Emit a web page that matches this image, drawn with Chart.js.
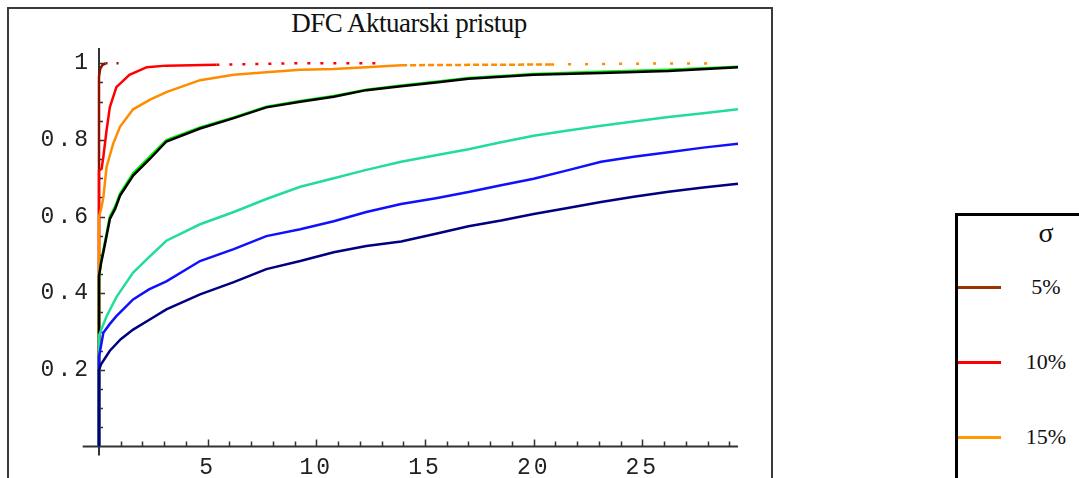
<!DOCTYPE html>
<html><head><meta charset="utf-8">
<script src="https://cdn.jsdelivr.net/npm/chart.js@4.4.1/dist/chart.umd.min.js"></script>
<style>
html,body{margin:0;padding:0;width:1079px;height:478px;overflow:hidden;background:#fff;}
#cwrap{position:absolute;left:0;top:0;width:1079px;height:478px;}
#frame{position:absolute;left:7px;top:7px;width:762px;height:520px;border:2px solid #3a3a3a;}
#title{position:absolute;left:159px;width:500px;top:10px;text-align:center;font-family:"Liberation Serif","Times New Roman",serif;font-size:27px;line-height:27px;color:#111;letter-spacing:-0.5px;}
#legbox{position:absolute;left:955px;top:213px;width:300px;height:400px;border-left:3px solid #000;border-top:3px solid #000;}
.lt{position:absolute;left:996px;width:100px;text-align:center;font-family:"Liberation Serif","Times New Roman",serif;font-size:22px;line-height:22px;color:#111;}
.ll{position:absolute;left:958px;width:43px;height:3px;}
</style></head>
<body>
<div id="frame"></div>
<div id="title">DFC Aktuarski pristup</div>
<div id="legbox"></div>
<div id="legend"></div>
<div id="cwrap"><canvas id="c"></canvas></div>
<script>
// ---- data ----
const seriesLabels = ['5%','10%','15%','20%','25%','30%','35%','40%'];
const seriesColors = ['#8B1200','#FF0000','#FF8C00','#00EE00','#000000','#22DD99','#1010FF','#000080'];
const legendColors = ['#993300','#FF0000','#FF9900','#00EE00','#000000','#22DD99','#1010FF','#000080'];

const x5  = [0, 0, 0.05, 0.15, 0.3, 0.8, 1.3];
const y5  = [0, 0.965, 0.985, 0.995, 1.0, 1.0, 1.0];

const x10 = [0, 0, 0.12, 0.2, 0.35, 0.5, 0.8, 1.4, 2.2, 3.1, 5.4, 9, 13];
const y10 = [0, 0.72, 0.725, 0.756, 0.826, 0.886, 0.938, 0.97, 0.99, 0.994, 0.996, 1, 1];

const x15 = [0, 0, 0.1, 0.2, 0.35, 0.65, 0.97, 1.57, 2.35, 3.1, 4.65, 6.2, 7.7, 9.26, 10.8, 12.3, 13.9, 17, 20.8, 24.5, 28.6];
const y15 = [0, 0.6, 0.62, 0.65, 0.73, 0.79, 0.835, 0.88, 0.905, 0.925, 0.956, 0.97, 0.977, 0.983, 0.985, 0.99, 0.995, 0.996, 0.997, 0.999, 1.0];

const x20 = [0, 0, 0.1, 0.2, 0.35, 0.5, 0.74, 0.97, 1.57, 2.35, 3.1, 4.65, 6.2, 7.7, 9.26, 10.8, 12.3, 13.9, 15.5, 17, 18.5, 20, 23.1, 26.2, 29.4];
const y20 = [0, 0.44, 0.485, 0.512, 0.556, 0.6, 0.626, 0.66, 0.713, 0.757, 0.8, 0.833, 0.859, 0.887, 0.902, 0.915, 0.931, 0.942, 0.952, 0.962, 0.967, 0.972, 0.978, 0.983, 0.991];

const x25 = [0, 0, 0.1, 0.2, 0.35, 0.5, 0.74, 0.97, 1.57, 2.35, 3.1, 4.65, 6.2, 7.7, 9.26, 10.8, 12.3, 13.9, 15.5, 17, 18.5, 20, 23.1, 26.2, 29.4];
const y25 = [0, 0.445, 0.48, 0.507, 0.55, 0.594, 0.62, 0.655, 0.707, 0.751, 0.796, 0.83, 0.857, 0.885, 0.9, 0.913, 0.93, 0.94, 0.95, 0.96, 0.965, 0.97, 0.975, 0.98, 0.99];

const x30 = [0, 0, 0.35, 0.8, 1.57, 2.35, 3.1, 4.65, 6.2, 7.7, 9.26, 10.8, 12.3, 13.9, 15.5, 17, 18.5, 20, 21.5, 23.1, 24.6, 26.2, 27.8, 29.4];
const y30 = [0, 0.29, 0.34, 0.39, 0.454, 0.497, 0.537, 0.58, 0.612, 0.646, 0.678, 0.7, 0.722, 0.743, 0.76, 0.776, 0.794, 0.811, 0.824, 0.837, 0.848, 0.86, 0.87, 0.88];

const x35 = [0, 0, 0.2, 0.5, 0.8, 1.57, 2.3, 3.1, 4.65, 6.2, 7.7, 9.26, 10.8, 12.3, 13.9, 15.5, 17, 18.5, 20, 21.5, 23.1, 24.6, 26.2, 27.8, 29.4];
const y35 = [0, 0.234, 0.297, 0.32, 0.34, 0.384, 0.41, 0.431, 0.484, 0.515, 0.549, 0.567, 0.588, 0.612, 0.633, 0.648, 0.664, 0.682, 0.699, 0.72, 0.743, 0.756, 0.768, 0.78, 0.79];

const x40 = [0, 0, 0.1, 0.5, 1, 1.57, 2.3, 3.1, 4.65, 6.2, 7.7, 9.26, 10.8, 12.3, 13.9, 15.5, 17, 18.5, 20, 21.5, 23.1, 24.6, 26.2, 27.8, 29.4];
const y40 = [0, 0.2, 0.215, 0.25, 0.28, 0.305, 0.33, 0.358, 0.397, 0.429, 0.463, 0.484, 0.507, 0.523, 0.535, 0.555, 0.575, 0.59, 0.607, 0.622, 0.638, 0.652, 0.665, 0.676, 0.686];

const xTicks = [5, 10, 15, 20, 25];
const xTickLabels = ['5', '10', '15', '20', '25'];
const yTicks = [0.2, 0.4, 0.6, 0.8, 1.0];
const yTickLabels = ['0.2', '0.4', '0.6', '0.8', '1'];

const xs = [x5, x10, x15, x20, x25, x30, x35, x40];
const ys = [y5, y10, y15, y20, y25, y30, y35, y40];
// dash ranges for sparse step tails [from, to, dash]
const dashRanges = [
  [[0.3, 99, [2, 9]]],
  [[5.4, 99, [3, 10]]],
  [[13.9, 20.8, [6, 3]], [20.8, 99, [3, 14]]],
  [], [], [], [], []
];

// ---- legend (HTML) ----
const leg = document.getElementById('legend');
(function(){
  let h = '<div class="lt" style="top:219px;font-size:28px;line-height:28px">σ</div>';
  seriesLabels.forEach((l, i) => {
    const cy = 287 + i * 75;
    h += '<div class="ll" style="top:' + (cy - 1.5) + 'px;background:' + legendColors[i] + '"></div>';
    h += '<div class="lt" style="top:' + (cy - 11.5) + 'px">' + l + '</div>';
  });
  leg.innerHTML = h;
})();

const datasets = xs.map((xa, i) => ({
  label: seriesLabels[i],
  data: xa.map((x, j) => ({x: x, y: ys[i][j]})),
  borderColor: seriesColors[i],
  backgroundColor: seriesColors[i],
  borderWidth: 2.5,
  pointRadius: 0,
  tension: 0,
  fill: false,
  clip: false,
  order: 8 - i,
  segment: {
    borderDash: ctx => {
      const px = ctx.p0.parsed.x;
      for (const r of dashRanges[i]) { if (px >= r[0] && px < r[1]) return r[2]; }
      return undefined;
    }
  }
}));

const spacingPlugin = {
  id: 'spacing',
  beforeDraw(chart) { chart.ctx.letterSpacing = '3px'; },
  afterDraw(chart) { chart.ctx.letterSpacing = '0px'; }
};

const axesPlugin = {
  id: 'mmaAxes',
  beforeDatasetsDraw(chart) {
    const {ctx, scales: {x, y}} = chart;
    const x0 = x.getPixelForValue(0), y0 = y.getPixelForValue(0);
    ctx.save();
    ctx.strokeStyle = '#333';
    ctx.lineWidth = 2;
    ctx.beginPath();
    ctx.moveTo(x.getPixelForValue(-0.75), y0);
    ctx.lineTo(x.getPixelForValue(29.4), y0);
    ctx.moveTo(x0, y.getPixelForValue(1.04));
    ctx.lineTo(x0, y0 + 9);
    ctx.stroke();
    ctx.lineWidth = 1.5;
    ctx.beginPath();
    for (let k = 1; k <= 29; k++) {
      const px = Math.round(x.getPixelForValue(k)) + 0.5;
      const len = (k % 5 === 0) ? 7 : 5;
      ctx.moveTo(px, y0); ctx.lineTo(px, y0 - len);
    }
    for (let k = 1; k <= 20; k++) {
      const py = Math.round(y.getPixelForValue(k * 0.05)) + 0.5;
      const len = (k % 4 === 0) ? 6 : 4;
      ctx.moveTo(x0, py); ctx.lineTo(x0 + len, py);
    }
    ctx.stroke();
    ctx.restore();
  }
};

new Chart(document.getElementById('c'), {
  type: 'line',
  data: {datasets},
  options: {
    responsive: true,
    maintainAspectRatio: false,
    animation: false,
    events: [],
    layout: {padding: {left: 0, top: 48, right: 341, bottom: 0}},
    plugins: {legend: {display: false}, title: {display: false}, tooltip: {enabled: false}},
    scales: {
      x: {
        type: 'linear', min: 0, max: 29.4,
        grid: {display: false, drawTicks: false},
        border: {display: false},
        afterBuildTicks: s => { s.ticks = xTicks.map(v => ({value: v})); },
        afterFit: s => { s.height = 31.5; },
        ticks: {
          padding: 8,
          color: '#222',
          font: {family: '"Liberation Mono", "Courier New", monospace', size: 23},
          callback: (v, i) => xTickLabels[i]
        }
      },
      y: {
        type: 'linear', min: 0, max: 1.04,
        grid: {display: false, drawTicks: false},
        border: {display: false},
        afterBuildTicks: s => { s.ticks = yTicks.map(v => ({value: v})); },
        afterFit: s => { s.width = 99; },
        ticks: {
          padding: 8,
          color: '#222',
          font: {family: '"Liberation Mono", "Courier New", monospace', size: 23},
          callback: (v, i) => yTickLabels[i]
        }
      }
    }
  },
  plugins: [spacingPlugin, axesPlugin]
});
</script>
</body></html>
